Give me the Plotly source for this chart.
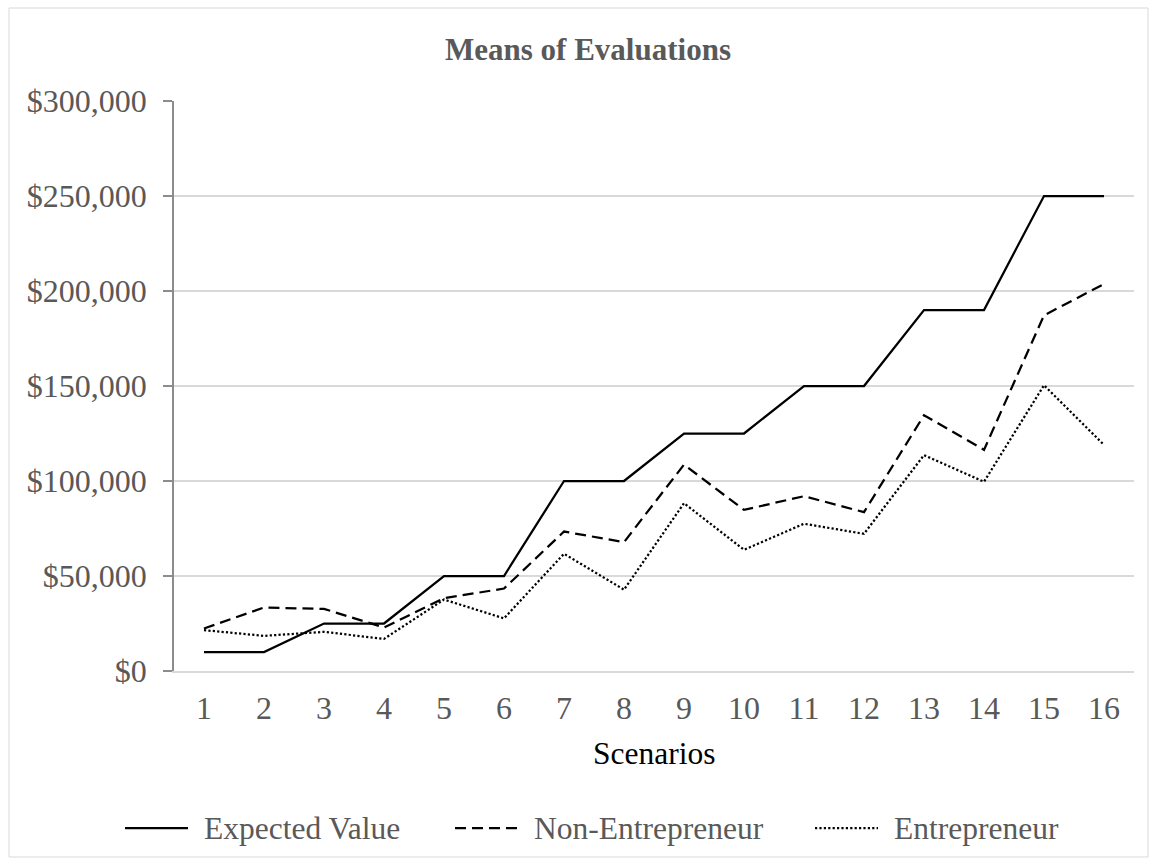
import plotly.graph_objects as go

# Scenario numbers and mean evaluations (USD)
scenarios = list(range(1, 17))
expected_value = [10000, 10000, 25000, 25000, 50000, 50000, 100000, 100000,
                  125000, 125000, 150000, 150000, 190000, 190000, 250000, 250000]
non_entrepreneur = [22400, 33400, 32700, 22900, 38300, 43400, 73400, 67800,
                    108600, 84800, 92000, 83600, 134600, 116400, 187200, 203700]
entrepreneur = [21500, 18500, 20600, 16900, 37600, 27700, 61700, 42800,
                88300, 63800, 77500, 72200, 113600, 99600, 150400, 119000]
y_ticks = [0, 50000, 100000, 150000, 200000, 250000, 300000]
y_tick_labels = ["$" + f"{v:,}" for v in y_ticks]

series = [
    ("Expected Value", expected_value, "solid"),
    ("Non-Entrepreneur", non_entrepreneur, "11px,6px"),
    ("Entrepreneur", entrepreneur, "2.2px,2.2px"),
]

FONT = "Liberation Serif, Times New Roman, serif"
GREY_TEXT = "#595959"
GRID = "#d9d9d9"
W, H = 1157, 865
L, R, T, B = 174, 23, 101, 194
PW, PH = W - L - R, H - T - B


def px_x(px):
    return (px - L) / PW


def px_y(py):
    return (H - B - py) / PH


fig = go.Figure()
for name, vals, dash in series:
    fig.add_trace(go.Scatter(
        x=scenarios, y=vals, name=name, mode="lines",
        line=dict(color="black", width=2.25, dash=dash),
        showlegend=False,
    ))

shapes = [
    # outer chart frame
    dict(type="rect", xref="paper", yref="paper",
         x0=px_x(9), x1=px_x(1148), y0=px_y(857), y1=px_y(8),
         line=dict(color=GRID, width=1), fillcolor="rgba(0,0,0,0)", layer="below"),
]
annotations = [
    dict(text="Scenarios", xref="paper", yref="paper", x=0.5, y=px_y(753),
         xanchor="center", yanchor="middle", showarrow=False,
         font=dict(family=FONT, size=31.5, color="black")),
]

# legend: line sample followed by its label
legend_pos = [(125, 188, 202), (455, 518, 532), (815, 878, 892)]
ly = px_y(828)
for (name, _, dash), (s0, s1, tx) in zip(series, legend_pos):
    shapes.append(dict(type="line", xref="paper", yref="paper",
                       x0=px_x(s0), x1=px_x(s1), y0=ly, y1=ly,
                       line=dict(color="black", width=2.25, dash=dash)))
    annotations.append(dict(text=name, xref="paper", yref="paper",
                            x=px_x(tx), y=ly, xanchor="left", yanchor="middle",
                            showarrow=False,
                            font=dict(family=FONT, size=31.5, color=GREY_TEXT)))

fig.update_layout(
    width=W, height=H,
    margin=dict(l=L, r=R, t=T, b=B),
    paper_bgcolor="white", plot_bgcolor="white",
    title=dict(text="<b>Means of Evaluations</b>", xref="container", yref="container",
               x=588 / W, y=1 - 49 / H, xanchor="center", yanchor="middle",
               font=dict(family=FONT, size=31, color=GREY_TEXT)),
    xaxis=dict(
        range=[0.5, 16.5], tickmode="array", tickvals=scenarios,
        ticktext=[str(s) for s in scenarios],
        showgrid=False, zeroline=False,
        showline=True, linecolor=GRID, linewidth=1.5,
        ticks="", ticklabelstandoff=8,
        tickfont=dict(family=FONT, size=32, color=GREY_TEXT),
    ),
    yaxis=dict(
        range=[0, 300000], tickmode="array", tickvals=y_ticks,
        ticktext=y_tick_labels,
        showgrid=True, gridcolor=GRID, gridwidth=1.5, zeroline=False,
        showline=True, linecolor="#8c8c8c", linewidth=1.5,
        ticks="outside", ticklen=9, tickcolor="#8c8c8c", tickwidth=1.5,
        ticklabelstandoff=10,
        tickfont=dict(family=FONT, size=32, color=GREY_TEXT),
    ),
    shapes=shapes,
    annotations=annotations,
)

fig.write_html("out.html")
